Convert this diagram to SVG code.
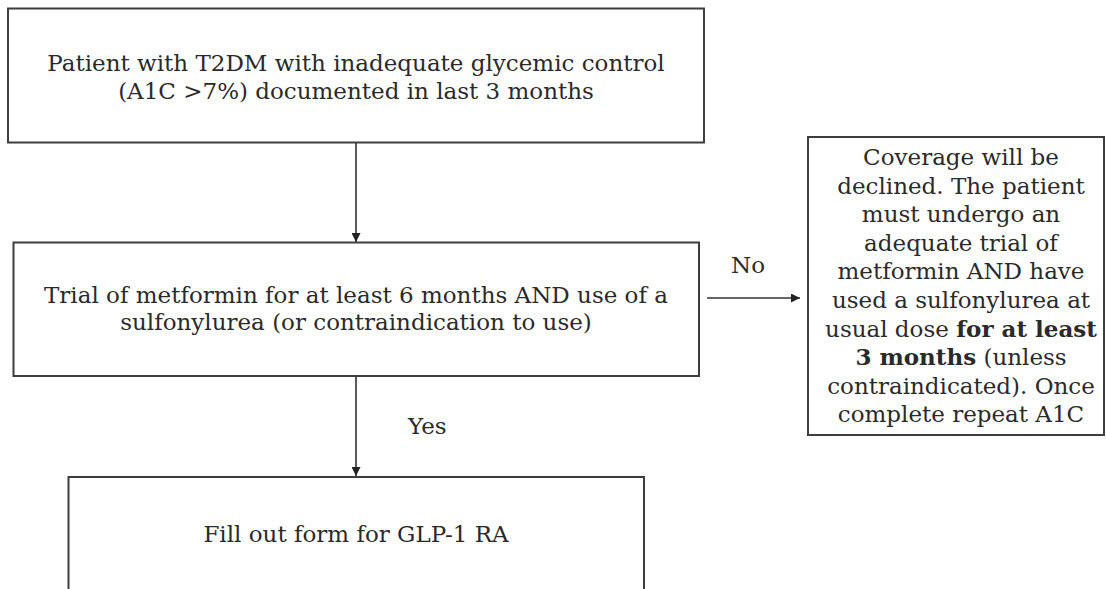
<svg xmlns="http://www.w3.org/2000/svg" width="1106" height="589" viewBox="0 0 1106 589">
<defs>
<style>
.box{fill:#fff;stroke:#3d3d3d;stroke-width:2}
.t{font-family:"DejaVu Serif","Liberation Serif",serif;font-size:23px;fill:#2a2a2a;text-anchor:middle}
.lbl{font-family:"DejaVu Serif","Liberation Serif",serif;font-size:23px;fill:#2a2a2a}
.con{stroke:#333;stroke-width:1.6;fill:none;marker-end:url(#ah)}
</style>
<marker id="ah" viewBox="0 0 10 10" refX="10" refY="5" markerWidth="9" markerHeight="9" markerUnits="userSpaceOnUse" orient="auto">
<path d="M0,0 L10,5 L0,10 z" fill="#222"/>
</marker>
</defs>
<rect width="1106" height="589" fill="#fff"/>
<g id="connectors">
<line class="con" x1="356" y1="143" x2="356" y2="242"/>
<line class="con" x1="356" y1="376" x2="356" y2="476"/>
<line class="con" x1="707" y1="298" x2="800" y2="298"/>
<text class="lbl" x="408" y="434">Yes</text>
<text class="lbl" x="731" y="273">No</text>
</g>
<g id="n1">
<rect class="box" x="8" y="8.5" width="696" height="134"/>
<text class="t" x="356" y="71">Patient with T2DM with inadequate glycemic control</text>
<text class="t" x="356" y="98.5">(A1C &gt;7%) documented in last 3 months</text>
</g>
<g id="n2">
<rect class="box" x="13.5" y="242.5" width="685.5" height="133.5"/>
<text class="t" x="356" y="303">Trial of metformin for at least 6 months AND use of a</text>
<text class="t" x="356" y="330">sulfonylurea (or contraindication to use)</text>
</g>
<g id="n3">
<rect class="box" x="68.5" y="477" width="575.5" height="130"/>
<text class="t" x="356" y="542">Fill out form for GLP-1 RA</text>
</g>
<g id="n4">
<rect class="box" x="808" y="137" width="296" height="298"/>
<text class="t" x="961" y="165">Coverage will be</text>
<text class="t" x="961" y="193.6">declined. The patient</text>
<text class="t" x="961" y="222.2">must undergo an</text>
<text class="t" x="961" y="250.8">adequate trial of</text>
<text class="t" x="961" y="279.4">metformin AND have</text>
<text class="t" x="961" y="308">used a sulfonylurea at</text>
<text class="t" x="961" y="336.6">usual dose <tspan font-weight="bold">for at least</tspan></text>
<text class="t" x="961" y="365.2"><tspan font-weight="bold">3 months</tspan> (unless</text>
<text class="t" x="961" y="393.8">contraindicated). Once</text>
<text class="t" x="961" y="422.4">complete repeat A1C</text>
</g>
</svg>
